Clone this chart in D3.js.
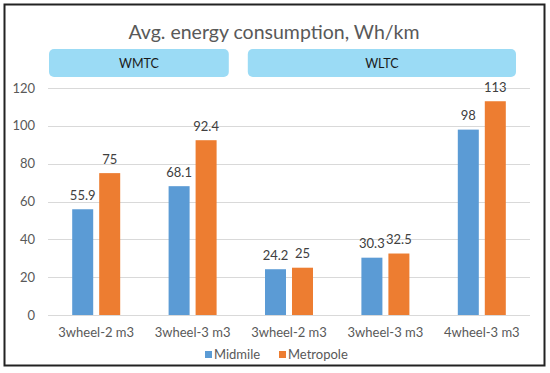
<!DOCTYPE html>
<html>
<head>
<meta charset="utf-8">
<script src="https://cdn.jsdelivr.net/npm/d3@7"></script>
<style>
  body { margin: 0; background: #fff; }
  text { font-family: Lato, "Open Sans", sans-serif; }
</style>
</head>
<body>
<div id="chart"></div>
<script>
// data
var categories = ["3wheel-2 m3", "3wheel-3 m3", "3wheel-2 m3", "3wheel-3 m3", "4wheel-3 m3"];
var seriesNames = ["Midmile", "Metropole"];
var midmile = [55.9, 68.1, 24.2, 30.3, 98];
var metropole = [75, 92.4, 25, 32.5, 113];
var yTicks = [0, 20, 40, 60, 80, 100, 120];
var groupNames = ["WMTC", "WLTC"];
var groupFirst = [0, 2];
var groupLast = [1, 4];

var colors = {Midmile: "#5b9bd5", Metropole: "#ed7d31"};

var W = 550, H = 373;
var svg = d3.select("#chart").append("svg")
  .attr("width", W).attr("height", H);

// outer frame
svg.append("rect")
  .attr("x", 4.5).attr("y", 4.5)
  .attr("width", 540).attr("height", 361)
  .attr("fill", "#fff")
  .attr("stroke", "#222").attr("stroke-width", 2);

// title
svg.append("text")
  .attr("x", 274).attr("y", 39)
  .attr("text-anchor", "middle")
  .attr("font-size", 19.5)
  .attr("fill", "#595959")
  .text("Avg. energy consumption, Wh/km");

var x = d3.scaleBand()
  .domain(d3.range(categories.length))
  .range([48, 530]);

var y = d3.scaleLinear()
  .domain([0, 120])
  .range([315, 88]);

var x1 = d3.scaleBand()
  .domain(seriesNames)
  .range([x.bandwidth() / 2 - 24, x.bandwidth() / 2 + 24])
  .paddingInner(0.222);

// gridlines
svg.append("g")
  .selectAll("line")
  .data(yTicks)
  .enter().append("line")
    .attr("x1", 48).attr("x2", 530)
    .attr("y1", function(d) { return Math.round(y(d)) + 0.5; })
    .attr("y2", function(d) { return Math.round(y(d)) + 0.5; })
    .attr("stroke", "#d9d9d9");

// y labels
svg.append("g")
  .selectAll("text")
  .data(yTicks)
  .enter().append("text")
    .attr("x", 35)
    .attr("y", function(d) { return y(d); })
    .attr("dy", "0.35em")
    .attr("text-anchor", "end")
    .attr("font-size", 13)
    .attr("fill", "#595959")
    .text(function(d) { return d; });

// group boxes
function boxLeft(i) { return x(groupFirst[i]) + (i === 0 ? 1 : 7); }
function boxRight(i) { return x(groupLast[i]) + x.bandwidth() - (i === 0 ? 12 : 14); }

var boxes = svg.append("g")
  .selectAll("g")
  .data(groupNames)
  .enter().append("g");
boxes.append("rect")
  .attr("x", function(d, i) { return boxLeft(i); })
  .attr("y", 49)
  .attr("width", function(d, i) { return boxRight(i) - boxLeft(i); })
  .attr("height", 28)
  .attr("rx", 5)
  .attr("fill", "#9bdbf5");
boxes.append("text")
  .attr("x", function(d, i) { return (boxLeft(i) + boxRight(i)) / 2; })
  .attr("y", 67.5)
  .attr("text-anchor", "middle")
  .attr("font-size", 12.5)
  .attr("fill", "#1a1a1a")
  .text(function(d) { return d; });

// bars
var rows = categories.map(function(c, i) {
  return [{key: "Midmile", i: i, value: midmile[i]}, {key: "Metropole", i: i, value: metropole[i]}];
});

var cat = svg.append("g")
  .selectAll("g")
  .data(rows)
  .enter().append("g")
    .attr("transform", function(d, i) { return "translate(" + x(i) + ",0)"; });

cat.selectAll("rect")
  .data(function(d) { return d; })
  .enter().append("rect")
    .attr("x", function(d) { return x1(d.key); })
    .attr("y", function(d) { return y(d.value); })
    .attr("width", x1.bandwidth())
    .attr("height", function(d) { return y(0) - y(d.value); })
    .attr("fill", function(d) { return colors[d.key]; });

cat.selectAll("text")
  .data(function(d) { return d; })
  .enter().append("text")
    .attr("x", function(d) { return x1(d.key) + x1.bandwidth() / 2; })
    .attr("y", function(d) { return y(d.value) - 9.5; })
    .attr("text-anchor", "middle")
    .attr("font-size", 13)
    .attr("fill", "#404040")
    .text(function(d) { return d.value; });

// category labels
svg.append("g")
  .selectAll("text")
  .data(categories)
  .enter().append("text")
    .attr("x", function(d, i) { return x(i) + x.bandwidth() / 2; })
    .attr("y", 337)
    .attr("text-anchor", "middle")
    .attr("font-size", 13)
    .attr("fill", "#595959")
    .text(function(d) { return d; });

// legend
var legX = [205, 279];
var leg = svg.append("g")
  .selectAll("g")
  .data(seriesNames)
  .enter().append("g")
    .attr("transform", function(d, i) { return "translate(" + legX[i] + ",351)"; });
leg.append("rect")
  .attr("width", 7).attr("height", 7)
  .attr("fill", function(d) { return colors[d]; });
leg.append("text")
  .attr("x", 9).attr("y", 8)
  .attr("font-size", 13)
  .attr("fill", "#595959")
  .text(function(d) { return d; });
</script>
</body>
</html>
